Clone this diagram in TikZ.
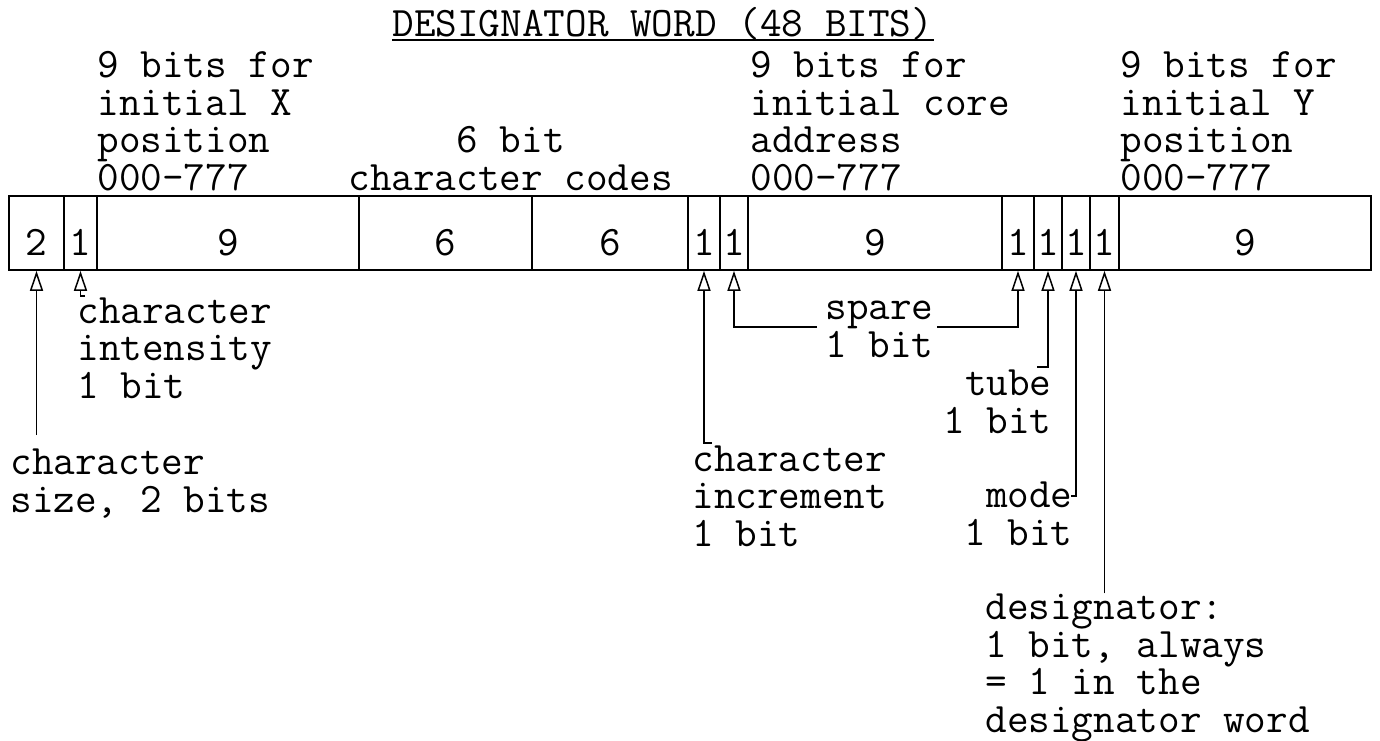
\documentclass[tikz,border=0pt]{standalone}
\usetikzlibrary{arrows.meta}
\newcommand{\tyfont}{\ttfamily\fontsize{21}{18.75}\selectfont}
\begin{document}
\begin{tikzpicture}[x=0.5pt,y=0.5pt,yscale=-1,
    lbl/.style={inner sep=0pt, font=\tyfont, align=left, anchor=base west},
    cell/.style={draw, line width=0.8pt, minimum height=37pt, inner sep=0pt, text height=22pt, text depth=0pt, font=\tyfont},
    ptr/.style={line width=0.75pt, -{Triangle[open,length=10pt,width=6.5pt]}}]
\useasboundingbox (0,0) rectangle (1380,740);
% Title
\node [lbl] (title) at (392,36) {DESIGNATOR WORD (48 BITS)};
\draw [line width=0.8pt] (title.south west) -- (title.south east);
% Text Node (placed at the baseline of the last line)
\node [lbl] (xpos) at (97,190) {9 bits for\\initial X\\position\\000-777};
\node [lbl, align=center] (codes) at (348,190) {6 bit\\character codes};
\node [lbl] (core) at (750,190) {9 bits for\\initial core\\address\\000-777};
\node [lbl] (ypos) at (1120,190) {9 bits for\\initial Y\\position\\000-777};
% Word fields
\foreach \l/\r/\v [count=\i] in {9/64/2, 64/97/1, 97/359/9, 359/532/6, 532/688/6, 688/720/1, 720/748/1,
    748/1002/9, 1002/1034/1, 1034/1062/1, 1062/1090/1, 1090/1119/1, 1119/1371/9}
  \node [cell, minimum width={(\r-\l)*0.5pt}] (c\i) at ({(\l+\r)/2},233) {\v};
% Text Node
\node [lbl] (size) at (10,512) {character\\size, 2 bits};
\node [lbl] (inten) at (77,398) {character\\intensity\\1 bit};
\node [lbl] (incr) at (692,546) {character\\increment\\1 bit};
\node [lbl] (spare) at (825,357) {spare\\1 bit};
\node [lbl, align=right, anchor=base east] (tube) at (1052,433) {tube\\1 bit};
\node [lbl, align=right, anchor=base east] (mode) at (1073,545) {mode\\1 bit};
\node [lbl] (desig) at (985,732) {designator:\\1 bit, always\\= 1 in the\\designator word};
% free ends of the pointers
\coordinate (sizeend) at (36,435);
\coordinate (intenend) at (85,296);
\coordinate (increnend) at (712,443);
\coordinate (sparel) at (817,327);
\coordinate (sparer) at (937,327);
\coordinate (tubeend) at (1037,367);
\coordinate (modeend) at (1071,496);
% Pointers
\draw [ptr] (c1.south |- sizeend) -- (c1.south);
\draw [ptr] (intenend) -| (c2.south);
\draw [ptr] (increnend) -| (c6.south);
\draw [ptr] (sparel) -| (c7.south);
\draw [ptr] (sparer) -| (c9.south);
\draw [ptr] (tubeend) -| (c10.south);
\draw [ptr] (modeend) -| (c11.south);
\draw [ptr] (c12.south |- desig.north) -- (c12.south);
\end{tikzpicture}
\end{document}
